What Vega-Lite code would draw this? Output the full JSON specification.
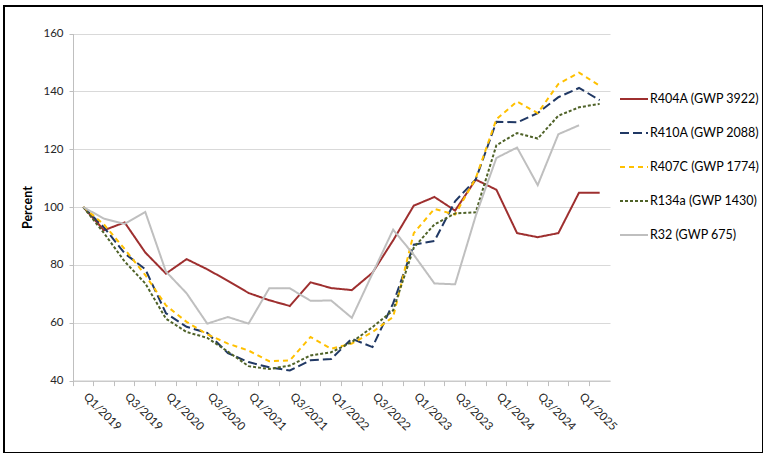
{
  "$schema": "https://vega.github.io/schema/vega-lite/v6.json",
  "width": 759,
  "height": 447,
  "autosize": {"type": "none"},
  "padding": {"left": 4, "top": 6, "right": 0, "bottom": 0},
  "background": "white",
  "config": {"view": {"stroke": "#000000", "strokeWidth": 2}, "font": "Lato"},
  "data": {
    "values": [
      {"q": "Q1/2019", "R404A (GWP 3922)": 100, "R410A (GWP 2088)": 100, "R407C (GWP 1774)": 100, "R134a (GWP 1430)": 100, "R32 (GWP 675)": 100},
      {"q": "Q2/2019", "R404A (GWP 3922)": 92, "R410A (GWP 2088)": 93, "R407C (GWP 1774)": 94, "R134a (GWP 1430)": 91, "R32 (GWP 675)": 96},
      {"q": "Q3/2019", "R404A (GWP 3922)": 94.7, "R410A (GWP 2088)": 84, "R407C (GWP 1774)": 85.5, "R134a (GWP 1430)": 81.2, "R32 (GWP 675)": 94.2},
      {"q": "Q4/2019", "R404A (GWP 3922)": 84.3, "R410A (GWP 2088)": 78.5, "R407C (GWP 1774)": 76.5, "R134a (GWP 1430)": 73.6, "R32 (GWP 675)": 98.3},
      {"q": "Q1/2020", "R404A (GWP 3922)": 77, "R410A (GWP 2088)": 63.3, "R407C (GWP 1774)": 66, "R134a (GWP 1430)": 61.4, "R32 (GWP 675)": 77.7},
      {"q": "Q2/2020", "R404A (GWP 3922)": 82, "R410A (GWP 2088)": 58.6, "R407C (GWP 1774)": 60.3, "R134a (GWP 1430)": 56.8, "R32 (GWP 675)": 70.2},
      {"q": "Q3/2020", "R404A (GWP 3922)": 78.5, "R410A (GWP 2088)": 56.5, "R407C (GWP 1774)": 56, "R134a (GWP 1430)": 54.8, "R32 (GWP 675)": 59.7},
      {"q": "Q4/2020", "R404A (GWP 3922)": 74.5, "R410A (GWP 2088)": 49.5, "R407C (GWP 1774)": 52.8, "R134a (GWP 1430)": 50, "R32 (GWP 675)": 62},
      {"q": "Q1/2021", "R404A (GWP 3922)": 70.3, "R410A (GWP 2088)": 46.4, "R407C (GWP 1774)": 50.4, "R134a (GWP 1430)": 45, "R32 (GWP 675)": 59.7},
      {"q": "Q2/2021", "R404A (GWP 3922)": 67.8, "R410A (GWP 2088)": 44.6, "R407C (GWP 1774)": 46.7, "R134a (GWP 1430)": 44, "R32 (GWP 675)": 71.9},
      {"q": "Q3/2021", "R404A (GWP 3922)": 65.8, "R410A (GWP 2088)": 43.5, "R407C (GWP 1774)": 47, "R134a (GWP 1430)": 45.2, "R32 (GWP 675)": 71.9},
      {"q": "Q4/2021", "R404A (GWP 3922)": 74, "R410A (GWP 2088)": 47, "R407C (GWP 1774)": 55.1, "R134a (GWP 1430)": 48.7, "R32 (GWP 675)": 67.6},
      {"q": "Q1/2022", "R404A (GWP 3922)": 72, "R410A (GWP 2088)": 47.5, "R407C (GWP 1774)": 51, "R134a (GWP 1430)": 49.8, "R32 (GWP 675)": 67.7},
      {"q": "Q2/2022", "R404A (GWP 3922)": 71.3, "R410A (GWP 2088)": 54.5, "R407C (GWP 1774)": 52.8, "R134a (GWP 1430)": 53.3, "R32 (GWP 675)": 61.7},
      {"q": "Q3/2022", "R404A (GWP 3922)": 77.3, "R410A (GWP 2088)": 51.6, "R407C (GWP 1774)": 56.8, "R134a (GWP 1430)": 58.5, "R32 (GWP 675)": 77},
      {"q": "Q4/2022", "R404A (GWP 3922)": 88.5, "R410A (GWP 2088)": 66.7, "R407C (GWP 1774)": 62, "R134a (GWP 1430)": 64.3, "R32 (GWP 675)": 92.2},
      {"q": "Q1/2023", "R404A (GWP 3922)": 100.5, "R410A (GWP 2088)": 87, "R407C (GWP 1774)": 91, "R134a (GWP 1430)": 86, "R32 (GWP 675)": 83.5},
      {"q": "Q2/2023", "R404A (GWP 3922)": 103.5, "R410A (GWP 2088)": 88.3, "R407C (GWP 1774)": 99.4, "R134a (GWP 1430)": 94, "R32 (GWP 675)": 73.6},
      {"q": "Q3/2023", "R404A (GWP 3922)": 98.8, "R410A (GWP 2088)": 102, "R407C (GWP 1774)": 97.4, "R134a (GWP 1430)": 97.8, "R32 (GWP 675)": 73.3},
      {"q": "Q4/2023", "R404A (GWP 3922)": 109.5, "R410A (GWP 2088)": 109.6, "R407C (GWP 1774)": 110, "R134a (GWP 1430)": 98.2, "R32 (GWP 675)": 97},
      {"q": "Q1/2024", "R404A (GWP 3922)": 106, "R410A (GWP 2088)": 129.5, "R407C (GWP 1774)": 130.4, "R134a (GWP 1430)": 121.4, "R32 (GWP 675)": 117},
      {"q": "Q2/2024", "R404A (GWP 3922)": 91, "R410A (GWP 2088)": 129.3, "R407C (GWP 1774)": 136.5, "R134a (GWP 1430)": 125.6, "R32 (GWP 675)": 120.6},
      {"q": "Q3/2024", "R404A (GWP 3922)": 89.6, "R410A (GWP 2088)": 132.5, "R407C (GWP 1774)": 132.5, "R134a (GWP 1430)": 123.7, "R32 (GWP 675)": 107.6},
      {"q": "Q4/2024", "R404A (GWP 3922)": 91, "R410A (GWP 2088)": 138, "R407C (GWP 1774)": 142.6, "R134a (GWP 1430)": 131.6, "R32 (GWP 675)": 125.2},
      {"q": "Q1/2025", "R404A (GWP 3922)": 105, "R410A (GWP 2088)": 141.2, "R407C (GWP 1774)": 146.5, "R134a (GWP 1430)": 134.5, "R32 (GWP 675)": 128.3},
      {"q": "Q2/2025", "R404A (GWP 3922)": 105, "R410A (GWP 2088)": 137, "R407C (GWP 1774)": 142, "R134a (GWP 1430)": 135.7, "R32 (GWP 675)": null}
    ]
  },
  "transform": [
    {"fold": ["R404A (GWP 3922)", "R410A (GWP 2088)", "R407C (GWP 1774)", "R134a (GWP 1430)", "R32 (GWP 675)"], "as": ["series", "value"]}
  ],
  "mark": {"type": "line", "strokeWidth": 2},
  "encoding": {
    "x": {
      "field": "q",
      "type": "ordinal",
      "sort": null,
      "scale": {"type": "band", "range": [69, 606], "paddingInner": 0, "paddingOuter": 0},
      "axis": {
        "title": null,
        "orient": "bottom",
        "offset": -72.4,
        "bandPosition": 0,
        "grid": false,
        "labelAngle": 45,
        "labelAlign": "left",
        "labelBaseline": "top",
        "labelOffset": 6,
        "labelPadding": 5,
        "labelOverlap": false,
        "labelExpr": "indexof(datum.label, 'Q2') == 0 || indexof(datum.label, 'Q4') == 0 ? '' : datum.label",
        "labelFontSize": 11.5,
        "labelColor": "#262626",
        "tickSize": 5,
        "tickColor": "#bfbfbf",
        "domainColor": "#bfbfbf"
      }
    },
    "y": {
      "field": "value",
      "type": "quantitative",
      "scale": {"domain": [40, 160], "range": [374.6, 27.6], "nice": false, "zero": false},
      "axis": {
        "title": "Percent",
        "offset": -69,
        "values": [40, 60, 80, 100, 120, 140, 160],
        "grid": true,
        "gridColor": "#d9d9d9",
        "domainColor": "#bfbfbf",
        "tickColor": "#bfbfbf",
        "tickSize": 4,
        "labelPadding": 6,
        "labelFontSize": 11.5,
        "labelColor": "#262626",
        "titleFontSize": 12.5,
        "titleFontWeight": "bold",
        "titleColor": "#000000",
        "titlePadding": 8
      }
    },
    "color": {
      "field": "series",
      "type": "nominal",
      "sort": null,
      "scale": {
        "domain": ["R404A (GWP 3922)", "R410A (GWP 2088)", "R407C (GWP 1774)", "R134a (GWP 1430)", "R32 (GWP 675)"],
        "range": ["#9e2f2f", "#203864", "#ffc000", "#4f6228", "#bfbfbf"]
      },
      "legend": {"title": null, "orient": "none", "legendX": 615, "legendY": 78, "symbolType": "stroke", "symbolSize": 784, "symbolStrokeWidth": 2, "labelFontSize": 12.5, "labelColor": "#000000", "rowPadding": 12, "labelOffset": 1}
    },
    "strokeDash": {
      "field": "series",
      "type": "nominal",
      "sort": null,
      "scale": {
        "domain": ["R404A (GWP 3922)", "R410A (GWP 2088)", "R407C (GWP 1774)", "R134a (GWP 1430)", "R32 (GWP 675)"],
        "range": [[1, 0], [9, 4], [5, 4], [3, 2], [1, 0]]
      },
      "legend": {"title": null, "orient": "none", "legendX": 615, "legendY": 78, "symbolType": "stroke", "symbolSize": 784, "symbolStrokeWidth": 2, "labelFontSize": 12.5, "labelColor": "#000000", "rowPadding": 12, "labelOffset": 1}
    }
  }
}
